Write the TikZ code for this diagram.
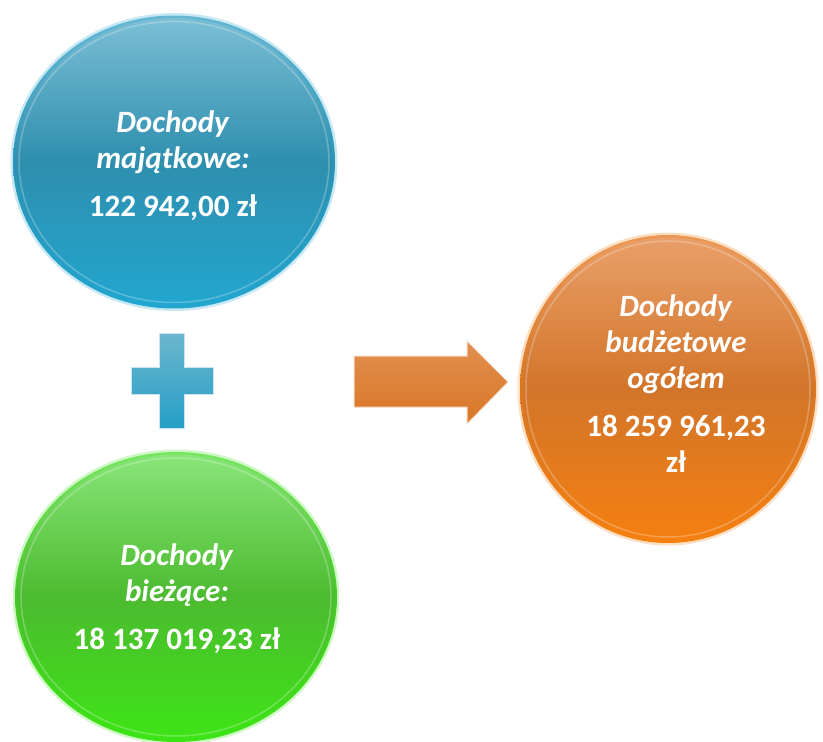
\documentclass[tikz,border=0pt]{standalone}
\usepackage{fontspec}
\setmainfont{Carlito}
\usetikzlibrary{shapes.geometric}

\definecolor{blueTop}{HTML}{7CBFD6}
\definecolor{blueMid}{HTML}{2E8FAE}
\definecolor{blueBot}{HTML}{22A6D0}
\definecolor{greenTop}{HTML}{8AE67A}
\definecolor{greenMid}{HTML}{4CBB30}
\definecolor{greenBot}{HTML}{3DE515}
\definecolor{orangeTop}{HTML}{EAA06A}
\definecolor{orangeMid}{HTML}{D2752A}
\definecolor{orangeBot}{HTML}{F58010}

\tikzset{
  bubble/.style={ellipse, inner sep=0pt, text=white, align=center,
    font=\fontsize{31}{36}\selectfont\bfseries},
  glow/.style={draw=#1, line width=5pt, draw opacity=0.25},
  rim/.style={ellipse, draw=white, draw opacity=0.25, line width=1.5pt},
}

\begin{document}
\begin{tikzpicture}[x=1pt,y=-1pt]
			\useasboundingbox (0,0) rectangle (823,742);
			
			% majatkowe
			\node[bubble, glow=blueBot, minimum width=322pt, minimum height=293pt,
			top color=blueTop, bottom color=blueBot, middle color=blueMid]
			(majatkowe) at (174,162) {};
			\node[rim, minimum width=310pt, minimum height=281pt] (majatkoweRim) at (majatkowe) {};
			\node[bubble] (majatkoweTxt) at (173,166)
			{\textit{Dochody}\\\textit{majątkowe:}\\[12pt]122 942,00 zł};
			
			% biezace
			\node[bubble, glow=greenBot, minimum width=322pt, minimum height=290pt,
			top color=greenTop, bottom color=greenBot, middle color=greenMid]
			(biezace) at (176,597) {};
			\node[rim, minimum width=310pt, minimum height=278pt] (biezaceRim) at (biezace) {};
			\node[bubble] (biezaceTxt) at (177,599)
			{\textit{Dochody}\\\textit{bieżące:}\\[12pt]18 137 019,23 zł};
			
			% ogolem
			\node[bubble, glow=orangeBot, minimum width=296pt, minimum height=308pt,
			top color=orangeTop, bottom color=orangeBot, middle color=orangeMid]
			(ogolem) at (668,389) {};
			\node[rim, minimum width=284pt, minimum height=296pt] (ogolemRim) at (ogolem) {};
			\node[bubble] (ogolemTxt) at (676,384)
			{\textit{Dochody}\\\textit{budżetowe}\\\textit{ogółem}\\[12pt]18 259 961,23\\zł};
			
			% plus
			\shade[top color=blueTop!80!blueMid, bottom color=blueBot!70!blueMid,
			draw=blueTop!40!white, line width=1pt]
			(159,333) -- (184,333) -- (184,367) -- (213,367) -- (213,394) -- (184,394)
			-- (184,428) -- (159,428) -- (159,394) -- (131,394) -- (131,367) -- (159,367) -- cycle;
			
			% arrow
			\shade[top color=orangeTop!60!orangeMid, bottom color=orangeMid!80!orangeBot,
			draw=orangeTop!40!white, line width=1pt]
			(354,356) -- (467,356) -- (467,341) -- (508,382) -- (467,424) -- (467,407)
			-- (354,407) -- cycle;
\end{tikzpicture}
\end{document}
